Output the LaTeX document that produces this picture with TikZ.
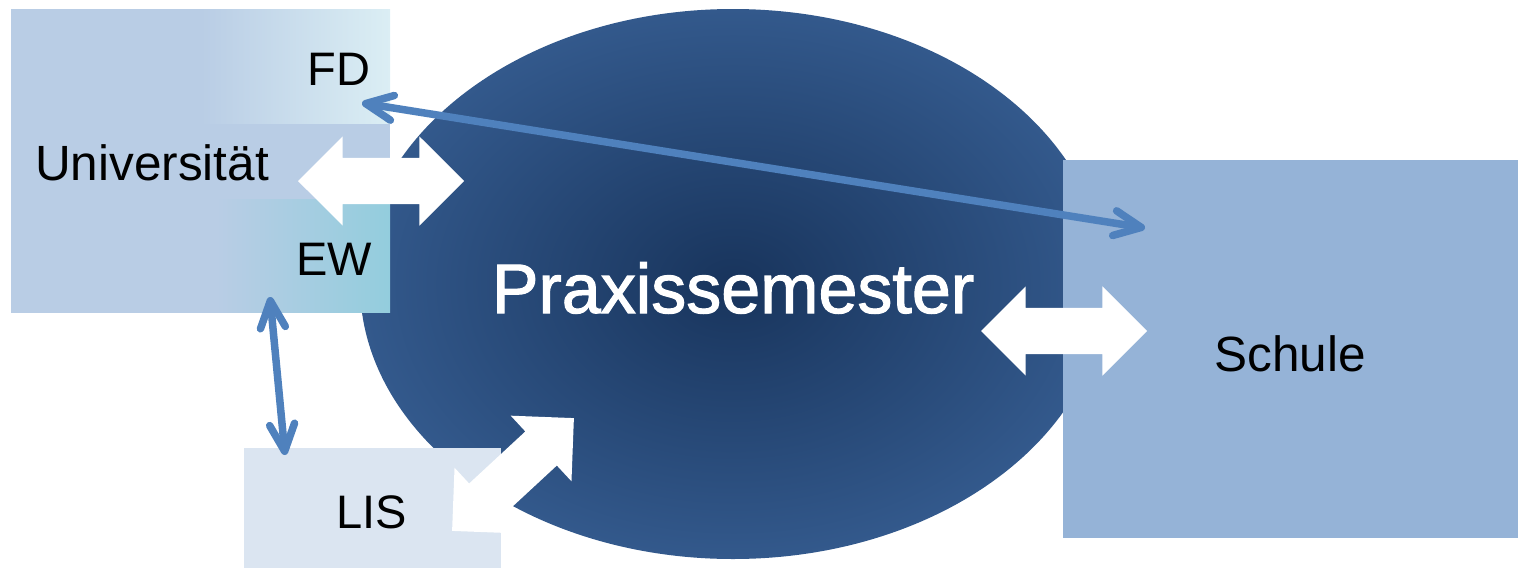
\documentclass[tikz,border=0pt]{standalone}
\usepackage{fontspec}
\setmainfont{Liberation Sans}
\newfontfamily\praxfont[FakeBold=1.6]{Liberation Sans}
\usetikzlibrary{shapes.geometric,shapes.arrows,arrows.meta}
\definecolor{uniA}{HTML}{B9CDE5}
\definecolor{fdlight}{HTML}{DBEEF4}
\definecolor{ewteal}{HTML}{93CDDD}
\definecolor{schulec}{HTML}{95B3D7}
\definecolor{lisc}{HTML}{DBE5F1}
\definecolor{ellin}{HTML}{18345C}
\definecolor{ellout}{HTML}{33598C}
\definecolor{linkc}{HTML}{4F81BD}
\pgfdeclarehorizontalshading{fdshade}{100bp}{color(0bp)=(uniA); color(50bp)=(uniA); color(75bp)=(fdlight); color(100bp)=(fdlight)}
\pgfdeclarehorizontalshading{ewshade}{100bp}{color(0bp)=(uniA); color(52bp)=(uniA); color(75bp)=(ewteal); color(100bp)=(ewteal)}
\begin{document}
\begin{tikzpicture}[x=1pt,y=-1pt,
  box/.style={rectangle, anchor=north west, inner sep=0pt, draw=none},
  lbl/.style={anchor=base, font=\fontsize{47}{47}\selectfont, text=black, inner sep=0pt},
  bigarrow/.style={double arrow, fill=white, draw=none, inner xsep=0pt, inner ysep=23pt, minimum height=166pt, double arrow head extend=21.5pt},
  link/.style={draw=linkc, line width=7.5pt, line cap=round, {Straight Barb[length=27pt,width=25pt,round]}-{Straight Barb[length=27pt,width=25pt,round]}}]
\useasboundingbox (0,0) rectangle (1520,568);
% central ellipse
\node[ellipse, minimum width=746pt, minimum height=550pt, inner sep=0pt, shade, inner color=ellin, outer color=ellout] (praxis) at (733,284) {};
% boxes
\node[box, minimum width=379pt, minimum height=115pt, shading=fdshade, shade] (fd) at (11,9) {};
\node[box, minimum width=379pt, minimum height=75pt, fill=uniA] (uni) at (11,124) {};
\node[box, minimum width=379pt, minimum height=113pt, shading=ewshade, shade] (ew) at (11,199) {};
\node[box, minimum width=455pt, minimum height=378pt, fill=schulec] (schule) at (1063,160) {};
\node[box, minimum width=257pt, minimum height=120pt, fill=lisc] (lis) at (244,448) {};
% white block arrows
\node[bigarrow] (uniarrow) at (381,181) {};
\node[bigarrow] (schulearrow) at (1064,331) {};
\node[bigarrow, rotate=42.8] (lisarrow) at (513,474.5) {};
% thin links
\coordinate (fdtip) at (362,103);
\coordinate (schuletip) at (1145,228);
\coordinate (ewtip) at (270,297);
\coordinate (listip) at (285,455);
\draw[link] (fdtip) -- (schuletip);
\draw[link] (ewtip) -- (listip);
% labels
\node[lbl] (fdlabel) at (339,85) {FD};
\node[lbl, font=\fontsize{49.5}{49.5}\selectfont] (unilabel) at (152,180) {Universität};
\node[lbl] (ewlabel) at (334,275) {EW};
\node[lbl] (lislabel) at (372,528) {LIS};
\node[lbl, font=\fontsize{49.5}{49.5}\selectfont] (schulelabel) at (1290,371) {Schule};
\node[lbl, text=white, font=\praxfont\fontsize{70}{70}\selectfont] (praxislabel) at (733,313) {Praxissemester};
\end{tikzpicture}
\end{document}
